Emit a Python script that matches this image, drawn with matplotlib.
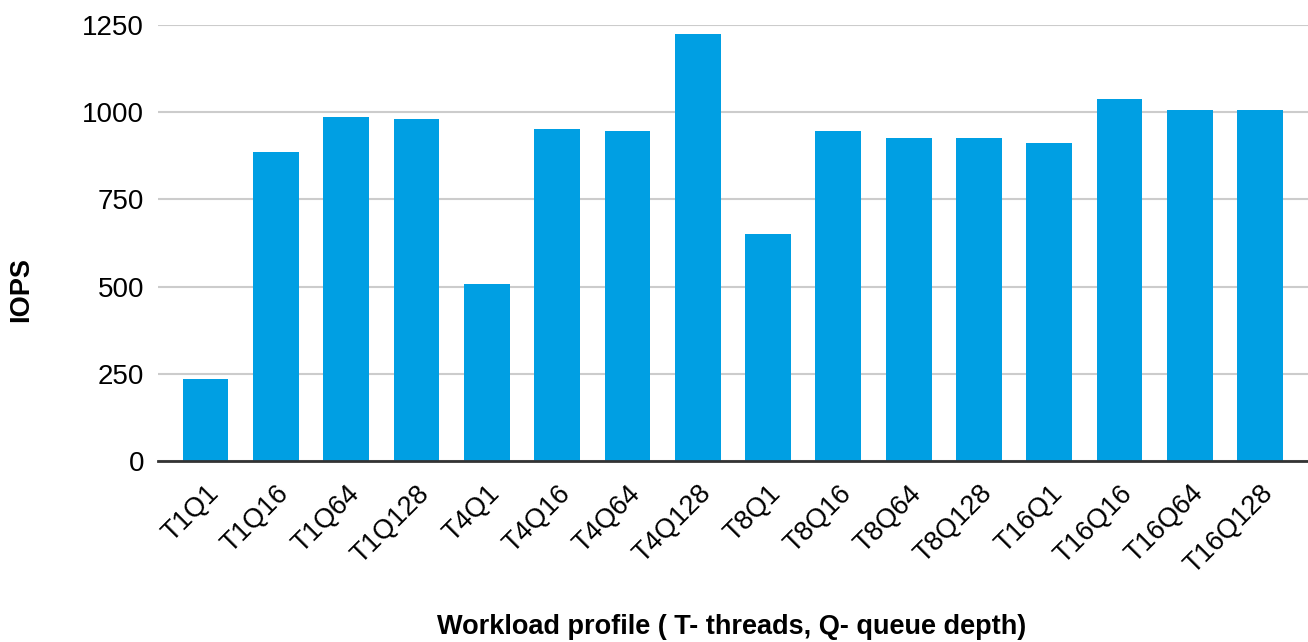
import matplotlib
matplotlib.use("Agg")
import matplotlib.pyplot as plt

# workload profiles (T = threads, Q = queue depth) and measured IOPS
profiles = ["T1Q1", "T1Q16", "T1Q64", "T1Q128",
            "T4Q1", "T4Q16", "T4Q64", "T4Q128",
            "T8Q1", "T8Q16", "T8Q64", "T8Q128",
            "T16Q1", "T16Q16", "T16Q64", "T16Q128"]
iops = [235, 886, 985, 980,
        507, 952, 945, 1225,
        651, 945, 926, 926,
        913, 1039, 1006, 1006]
yticks = [0, 250, 500, 750, 1000, 1250]

plt.rcParams['font.family'] = ['Liberation Sans', 'DejaVu Sans']

W, H = 1308, 642
fig = plt.figure(figsize=(W / 100, H / 100), dpi=100)
ax = fig.add_axes([0.1208, 0.282, 0.879, 0.679])

x = range(len(profiles))
ax.bar(x, iops, width=0.65, color='#009FE3', zorder=2)

ax.set_ylim(0, 1250)
ax.set_xlim(-0.675, len(profiles) - 1 + 0.675)
ax.set_yticks(yticks)
ax.set_yticklabels([str(v) for v in yticks], fontsize=20)
ax.set_xticks(list(x))
ax.set_xticklabels(profiles, fontsize=19.5, rotation=45, ha='right',
                   rotation_mode='anchor')

ax.grid(axis='y', color='#cccccc', linewidth=1.5, zorder=0)
ax.tick_params(axis='both', length=0)
ax.tick_params(axis='y', pad=10)
ax.tick_params(axis='x', pad=14)
for side in ['top', 'right', 'left']:
    ax.spines[side].set_visible(False)
ax.spines['bottom'].set_color('#333333')
ax.spines['bottom'].set_linewidth(2)
ax.spines['bottom'].set_zorder(3)

# axis titles placed in figure pixels as in the reference
fig.text(21 / W, 1 - 290 / H, 'IOPS', rotation=90, fontsize=19.5,
         fontweight='bold', ha='center', va='center')
fig.text(732 / W, 1 - 627 / H, 'Workload profile ( T- threads, Q- queue depth)',
         fontsize=19.5, fontweight='bold', ha='center', va='center')

fig.savefig('out.png', dpi=100)
